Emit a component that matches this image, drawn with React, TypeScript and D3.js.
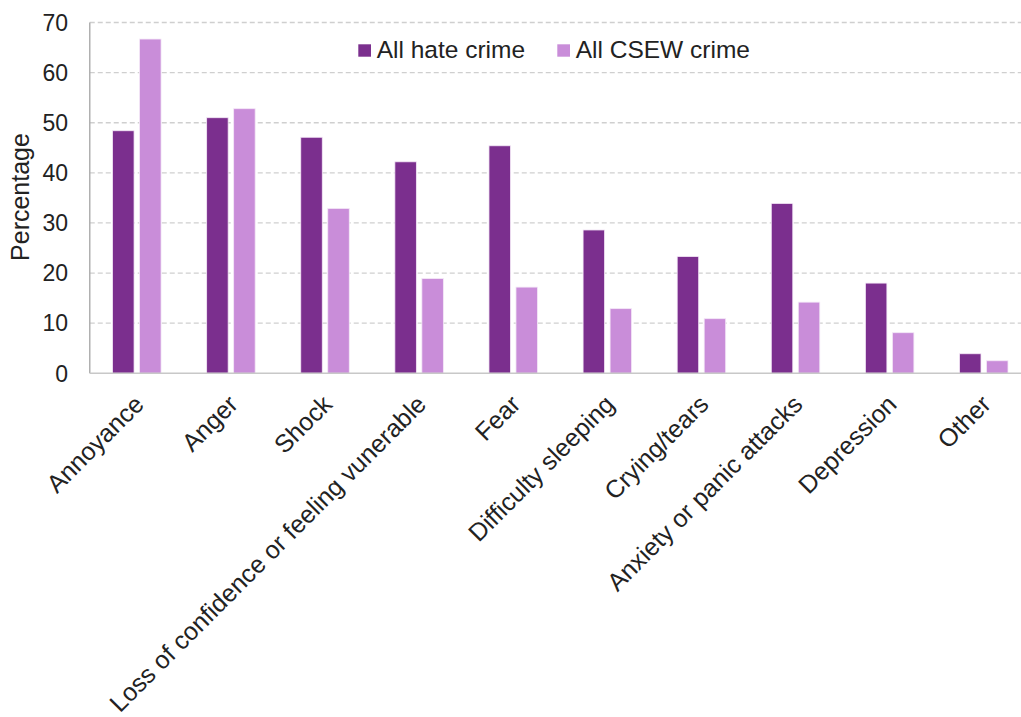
import React from "react";
import * as d3 from "d3";

const categories = [
  "Annoyance",
  "Anger",
  "Shock",
  "Loss of confidence or feeling vunerable",
  "Fear",
  "Difficulty sleeping",
  "Crying/tears",
  "Anxiety or panic attacks",
  "Depression",
  "Other",
];
const hateCrime = [48.4, 51.0, 47.1, 42.2, 45.4, 28.6, 23.3, 33.9, 18.0, 3.9];
const allCsew = [66.7, 52.8, 32.9, 18.9, 17.2, 12.9, 10.9, 14.2, 8.1, 2.5];
const seriesNames = ["All hate crime", "All CSEW crime"];
const yTicks = [0, 10, 20, 30, 40, 50, 60, 70];

const W = 1021;
const H = 717;
const left = 89.75;
const right = 1030.8;
const top = 22.5;
const bottom = 373.3;
const colors = ["#7b2f8e", "#c98dd9"];
const font = "'Liberation Sans', Arial, sans-serif";

export default function App() {
  const x = d3.scaleBand<string>().domain(categories).range([left, right]).paddingInner(0).paddingOuter(0);
  const y = d3.scaleLinear().domain([0, 70]).range([bottom, top]);
  const barW = 21.5;
  const gap = 5.5;
  const series = [hateCrime, allCsew];

  return (
    <svg width={W} height={H} style={{ position: "absolute", left: 0, top: 0, background: "#fff" }}>
      {yTicks.map((t) => (
        <g key={t}>
          {t > 0 && (
            <line x1={left} x2={W} y1={y(t)} y2={y(t)} stroke="#cfcfcf" strokeWidth={1.3} strokeDasharray="5,3" />
          )}
          <text x={68} y={y(t)} dy="0.36em" textAnchor="end" fontFamily={font} fontSize={23} fill="#222">
            {t}
          </text>
        </g>
      ))}
      {categories.map((c, i) => {
        const cx = (x(c) as number) + x.bandwidth() / 2;
        return (
          <g key={c}>
            {series.map((s, k) => {
              const bx = k === 0 ? cx - gap / 2 - barW : cx + gap / 2;
              return (
                <rect
                  key={k}
                  x={bx}
                  y={y(s[i])}
                  width={barW}
                  height={bottom - y(s[i])}
                  fill={colors[k]}
                  stroke="#f4e8f7"
                  strokeWidth={0.8}
                />
              );
            })}
            <text
              transform={`translate(${cx - 4},${bottom + 20}) rotate(-45)`}
              textAnchor="end"
              dy="0.71em"
              fontFamily={font}
              fontSize={25}
              fill="#222"
            >
              {c}
            </text>
          </g>
        );
      })}
      <line x1={left} x2={left} y1={top} y2={bottom} stroke="#b0b0b0" strokeWidth={1.5} />
      <line x1={left} x2={W} y1={bottom} y2={bottom} stroke="#c8c8c8" strokeWidth={1.5} />
      <text
        transform={`translate(29,197) rotate(-90)`}
        textAnchor="middle"
        fontFamily={font}
        fontSize={25}
        fill="#222"
      >
        Percentage
      </text>
      {seriesNames.map((n, k) => {
        const lx = k === 0 ? 358.3 : 557.3;
        return (
          <g key={n}>
            <rect x={lx} y={44.3} width={12.7} height={12.4} fill={colors[k]} />
            <text x={lx + 18.4} y={58.3} fontFamily={font} fontSize={24.5} fill="#222">
              {n}
            </text>
          </g>
        );
      })}
    </svg>
  );
}
